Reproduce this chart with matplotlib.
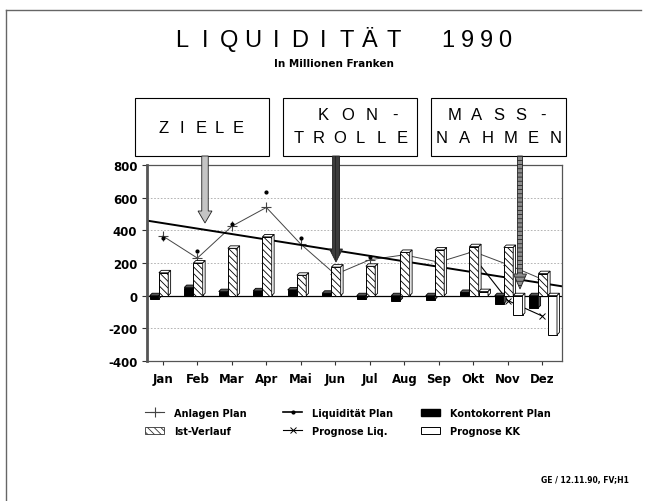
import numpy as np
import matplotlib
matplotlib.use("Agg")
import matplotlib.pyplot as plt
from matplotlib.patches import Polygon, Rectangle, Patch
from matplotlib.lines import Line2D

plt.rcParams['font.family'] = ['Liberation Sans', 'DejaVu Sans']
plt.rcParams['axes.unicode_minus'] = False
plt.rcParams['hatch.linewidth'] = 0.6
BOLD = ['DejaVu Sans']

# --------------------
# Data (Millionen Franken)
# --------------------
months = ['Jan', 'Feb', 'Mar', 'Apr', 'Mai', 'Jun', 'Jul', 'Aug', 'Sep', 'Okt', 'Nov', 'Dez']
ist_verlauf = [140, 200, 290, 360, 125, 175, 180, 265, 280, 300, 295, 135]
kontokorrent_plan = [-20, 50, 25, 30, 35, 15, -20, -30, -25, 20, -50, -75]
prognose_kk = [np.nan] * 9 + [25, -120, -240]
anlagen_plan = [365, 230, 425, 540, 315, 130, 220, 250, 205, 270, 190, 100]
liquiditaet_plan = [444, 411, 377, 344, 310, 277, 244, 210, 177, 143, 110, 76]
liquiditaet_punkte = [352, 276, 440, 634, 354, np.nan, 235] + [np.nan] * 5
prognose_liq = [np.nan] * 9 + [240, -30, -125]
y_ticks = [-400, -200, 0, 200, 400, 600, 800]

W, H = 645, 502
fig = plt.figure(figsize=(W / 100, H / 100), dpi=100)


def fx(x):
    return x / W


def fy(y):
    return 1 - y / H


def spaced(s, cx0, step, y, size, weight='normal'):
    for i, c in enumerate(s):
        fig.text(fx(cx0 + i * step), fy(y), c, ha='center', va='center',
                 fontsize=size, fontweight=weight)


# --------------------
# Axes
# --------------------
ax = fig.add_axes([fx(147), fy(362), fx(562) - fx(147), fy(166) - fy(362)])
x = np.arange(len(months))
ax.set_xlim(-0.46, 11.57)
ax.set_ylim(-400, 800)

for v in y_ticks[1:-1]:
    if v != 0:
        ax.axhline(v, color='#a8a8a8', lw=0.6, ls=(0, (2, 2)), zorder=0.5)
ax.axhline(0, color='black', lw=0.9, zorder=2.5)

# lines sit behind the bars
ax.plot(x, anlagen_plan, color='#444444', lw=0.7, marker='+', ms=7, mew=0.8, zorder=2)
coef = np.polyfit(x, liquiditaet_plan, 1)
xs = np.array(ax.get_xlim())
ax.plot(xs, np.polyval(coef, xs), color='black', lw=1.4, zorder=2)
ax.plot(x, liquiditaet_punkte, ls='none', marker='.', ms=4, color='black', zorder=2)
ax.plot(x, prognose_liq, color='black', lw=0.8, marker='x', ms=4, mew=0.7, zorder=2)

DX, DY = 0.07, 15


def bars3d(xpos, vals, w, face, side, hatch=None):
    ax.bar(xpos, vals, w, color=face, edgecolor='black', lw=0.7, hatch=hatch, zorder=3)
    for xi, h in zip(xpos, vals):
        if np.isnan(h):
            continue
        x0, x1 = xi - w / 2, xi + w / 2
        top, bot = max(h, 0), min(h, 0)
        ax.add_patch(Polygon([(x0, top), (x0 + DX, top + DY), (x1 + DX, top + DY), (x1, top)],
                             fc=side, ec='black', lw=0.6, zorder=3))
        ax.add_patch(Polygon([(x1, bot), (x1 + DX, bot + DY), (x1 + DX, top + DY), (x1, top)],
                             fc=side, ec='black', lw=0.6, zorder=3))


bars3d(x - 0.25, kontokorrent_plan, 0.26, 'black', '#555555')
bars3d(x + 0.02, ist_verlauf, 0.27, 'white', 'white', hatch='\\\\\\\\\\')
bars3d(x + 0.29, prognose_kk, 0.27, 'white', 'white')

ax.set_xticks(x)
ax.set_xticklabels(months, fontsize=8.5, fontweight='bold', family=BOLD)
ax.set_yticks(y_ticks)
ax.set_yticklabels([str(v) for v in y_ticks], fontsize=8.5, fontweight='bold', family=BOLD)
ax.tick_params(axis='x', direction='out', length=3, width=0.8, pad=5, colors='#333333',
               labelcolor='black')
ax.tick_params(axis='y', direction='out', length=3.5, width=0.8, pad=3.5, colors='#333333',
               labelcolor='black')
for side in ['top', 'right', 'bottom']:
    ax.spines[side].set_color('#555555')
    ax.spines[side].set_linewidth(0.9)
ax.spines['left'].set_color('#555555')
ax.spines['left'].set_linewidth(2.0)

# --------------------
# Title and boxes
# --------------------
spaced('LIQUIDITÄT', 181.7, 23.5, 41, 17)
spaced('1990', 448, 19, 41, 17)
fig.text(fx(334), fy(64), 'In Millionen Franken', ha='center', va='center',
         fontsize=7.5, fontweight='bold', family=BOLD)

for x0, x1 in [(135, 269), (283, 417), (431, 566)]:
    fig.add_artist(Rectangle((fx(x0), fy(157)), fx(x1) - fx(x0), fy(99) - fy(157),
                             transform=fig.transFigure, fc='white', ec='black', lw=0.8))
spaced('ZIELE', 163.3, 18.8, 128.5, 12)
spaced('KON-', 323.3, 24, 115.5, 12)
spaced('TROLLE', 298.3, 20.7, 138.5, 12)
spaced('MASS-', 455, 22, 115.5, 12)
spaced('NAHMEN', 441.7, 22.8, 138.5, 12)


def arrow(xc, ytop, yhead, ytip, sw, hw, fc, hatch=None):
    pts = [(xc - sw / 2, ytop), (xc - sw / 2, yhead), (xc - hw / 2, yhead), (xc, ytip),
           (xc + hw / 2, yhead), (xc + sw / 2, yhead), (xc + sw / 2, ytop)]
    fig.add_artist(Polygon([(fx(a), fy(b)) for a, b in pts], closed=True,
                           transform=fig.transFigure, fc=fc, ec='#222222', lw=0.6, hatch=hatch))


arrow(205, 157, 212, 224, 6.5, 14, '#c4c4c4')
arrow(336, 157, 250, 263, 7, 13, '#3c3c3c', hatch='||||')
arrow(520, 157, 275, 290, 5, 13, '#8c8c8c', hatch='----')

# --------------------
# Legend
# --------------------
h_anl = Line2D([], [], color='#444444', lw=0.8, marker='+', ms=7, mew=0.8)
h_ist = Patch(fc='white', ec='#333333', lw=0.6, hatch='\\\\\\\\\\')
h_liq = Line2D([], [], color='black', lw=1.2, marker='.', ms=4)
h_pliq = Line2D([], [], color='black', lw=0.8, marker='x', ms=4, mew=0.7)
h_kk = Patch(fc='black', ec='black')
h_pkk = Patch(fc='white', ec='black', lw=0.7)

cols = [([h_anl, h_ist], ['Anlagen Plan', 'Ist-Verlauf'], 145),
        ([h_liq, h_pliq], ['Liquidität Plan', 'Prognose Liq.'], 283),
        ([h_kk, h_pkk], ['Kontokorrent Plan', 'Prognose KK'], 421)]
for hs, ls, xl in cols:
    fig.legend(hs, ls, loc='upper left', bbox_to_anchor=(fx(xl), fy(409)),
               frameon=False, borderpad=0, borderaxespad=0, handlelength=2.0,
               handleheight=0.8, handletextpad=1.0, labelspacing=0.8,
               prop={'size': 7, 'weight': 'bold', 'family': BOLD})

fig.text(fx(629), fy(481), 'GE / 12.11.90, FV;H1', ha='right', va='center',
         fontsize=5.5, fontweight='bold', family=BOLD)

# scanned page edge
fig.add_artist(Line2D([fx(6), fx(641)], [fy(11), fy(11)], transform=fig.transFigure,
                      color='#666666', lw=1.0))
fig.add_artist(Line2D([fx(6), fx(6)], [fy(11), fy(502)], transform=fig.transFigure,
                      color='#666666', lw=1.0))

fig.savefig('out.png', dpi=100)
